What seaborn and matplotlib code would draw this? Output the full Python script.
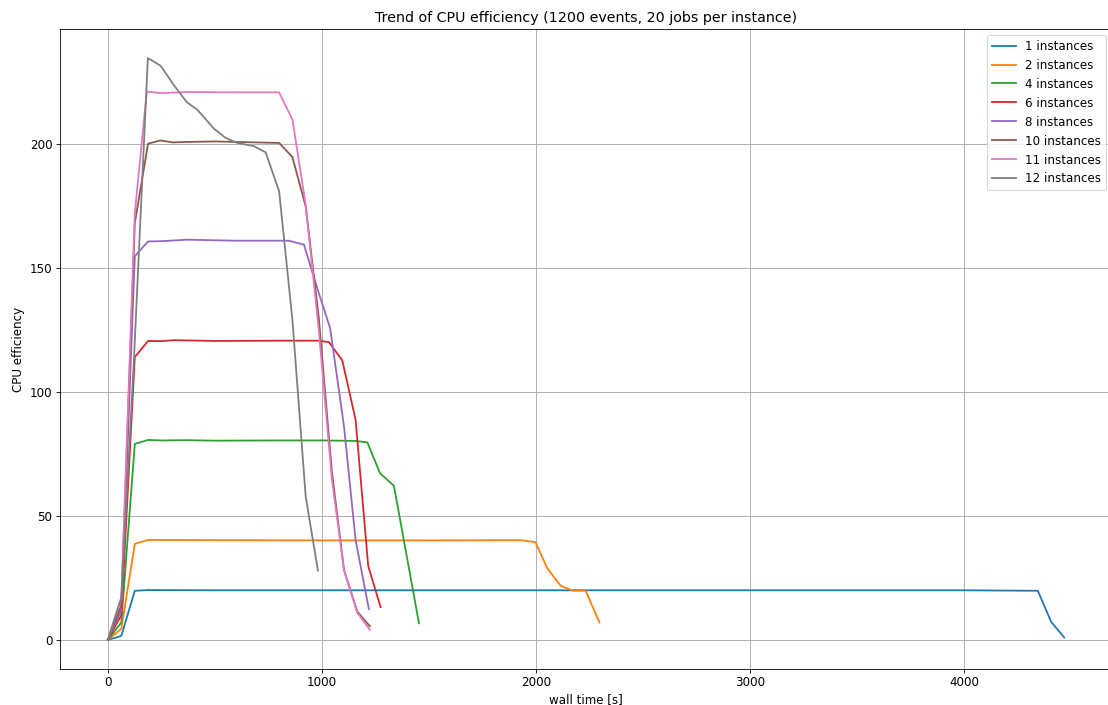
import numpy as np
import pandas as pd
import matplotlib
matplotlib.use("Agg")
import matplotlib.pyplot as plt
import seaborn as sns

# Wall-time samples [s] and CPU efficiency for each number of parallel instances
t_1 = [0, 63, 126, 188, 500, 1000, 2000, 3000, 4000, 4343, 4405, 4466]
e_1 = [0, 1.6, 19.8, 20.1, 20.0, 20.0, 20.0, 20.0, 20.0, 19.8, 7.3, 1.0]

t_2 = [0, 63, 126, 188, 500, 1000, 1500, 1927, 1997, 2052, 2114, 2168, 2231, 2296]
e_2 = [0, 4.5, 38.7, 40.3, 40.2, 40.1, 40.1, 40.2, 39.4, 28.9, 21.9, 19.9, 19.9, 7.0]

t_4 = [0, 63, 126, 188, 248, 370, 500, 800, 1000, 1157, 1212, 1271, 1336, 1453]
e_4 = [0, 7.0, 79.0, 80.6, 80.4, 80.5, 80.3, 80.4, 80.4, 80.2, 79.6, 67.2, 62.1, 6.7]

t_6 = [0, 63, 126, 188, 248, 310, 500, 800, 986, 1033, 1095, 1157, 1216, 1274]
e_6 = [0, 10.0, 114.0, 120.5, 120.4, 120.8, 120.5, 120.6, 120.6, 120.0, 112.6, 88.7, 29.8, 13.2]

t_8 = [0, 63, 126, 188, 248, 370, 600, 846, 916, 977, 1038, 1103, 1157, 1219]
e_8 = [0, 12.0, 154.6, 160.6, 160.7, 161.3, 160.9, 160.9, 159.3, 142.0, 125.7, 86.0, 40.3, 12.4]

t_10 = [0, 63, 126, 188, 245, 305, 366, 500, 800, 862, 924, 985, 1046, 1103, 1165, 1224]
e_10 = [0, 14.0, 168.0, 200.0, 201.3, 200.5, 200.7, 200.9, 200.3, 194.6, 174.7, 130.0, 68.0, 28.2, 11.4, 5.5]

t_11 = [0, 63, 126, 182, 247, 370, 600, 800, 862, 924, 985, 1046, 1103, 1165, 1224]
e_11 = [0, 17.0, 172.0, 221.0, 220.4, 220.8, 220.7, 220.7, 209.7, 175.4, 125.0, 65.0, 28.0, 11.0, 4.0]

t_12 = [0, 63, 122, 187, 247, 305, 369, 418, 496, 551, 605, 683, 737, 800, 862, 924, 981]
e_12 = [0, 17.0, 113.0, 234.5, 231.4, 224.0, 216.7, 213.7, 206.0, 202.3, 200.3, 199.0, 196.5, 180.8, 129.0, 57.8, 28.0]

labels = ["1 instances", "2 instances", "4 instances", "6 instances",
          "8 instances", "10 instances", "11 instances", "12 instances"]
times = [t_1, t_2, t_4, t_6, t_8, t_10, t_11, t_12]
effs = [e_1, e_2, e_4, e_6, e_8, e_10, e_11, e_12]

frames = [pd.DataFrame({"wall time [s]": t, "CPU efficiency": e, "run": lab})
          for t, e, lab in zip(times, effs, labels)]
df = pd.concat(frames, ignore_index=True)

fig = plt.figure(figsize=(1108 / 76, 705 / 76), dpi=76)
# axes run slightly past the right border of the canvas
ax = fig.add_axes([60 / 1108, 36 / 705, 1052 / 1108, 640 / 705])

sns.lineplot(data=df, x="wall time [s]", y="CPU efficiency", hue="run",
             hue_order=labels, palette="tab10", estimator=None,
             sort=False, linewidth=1.7, ax=ax)

ax.grid(True, color="#b0b0b0", linewidth=0.9)
ax.set_axisbelow(True)
ax.spines["right"].set_visible(False)
ax.set_title("Trend of CPU efficiency (1200 events, 20 jobs per instance)",
             fontsize=13.5, pad=7)
ax.set_xlabel("wall time [s]", fontsize=11.3, labelpad=3)
ax.set_ylabel("CPU efficiency", fontsize=11.3, labelpad=5)
ax.tick_params(labelsize=11.3)
ax.set_xticks([0, 1000, 2000, 3000, 4000])
ax.set_yticks([0, 50, 100, 150, 200])

handles, labs = ax.get_legend_handles_labels()
ax.legend(handles, labs, loc="upper right", fontsize=11.3)

fig.savefig("out.png", dpi=76)
